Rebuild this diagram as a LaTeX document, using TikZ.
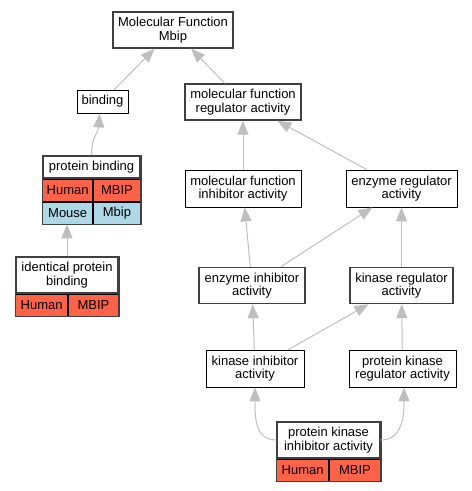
\documentclass[tikz,border=0pt]{standalone}
\usepackage{fontspec}
\setmainfont{Liberation Sans}
\usetikzlibrary{arrows.meta,positioning}
\definecolor{human}{HTML}{FF6347}
\definecolor{mouse}{HTML}{ADD8E6}
\definecolor{isagray}{HTML}{BEBEBE}

\begin{document}
\begin{tikzpicture}[x=1pt,y=-1pt,
    every node/.style={font=\fontsize{13}{13.5}\selectfont,inner sep=0pt,align=center},
    term/.style={draw,line width=0.8pt,fill=white,minimum height=37pt},
    termb/.style={draw=black!75,line width=1.4pt,fill=white,minimum height=36pt},
    cell/.style={draw,line width=0.8pt,minimum height=22pt,anchor=north west},
    isa/.style={color=isagray,line width=1pt,-{Triangle[length=14pt,width=11pt]}}]

    \useasboundingbox (0,0) rectangle (472,491);

    % left branch
    \node[termb,minimum width=120pt] (mf)   at (173,30)    {Molecular Function\\Mbip};
    \node[term,minimum width=51pt,minimum height=23pt] (bind) at (102.5,101.5) {binding};
    \node[termb,minimum width=97pt,minimum height=22pt] (pb) at (91.5,167) {protein binding};
    \node[cell,fill=human,minimum width=50pt] (pbh)  at (pb.south west) {Human};
    \node[cell,fill=human,minimum width=47pt] (pbm)  at (pbh.north east) {MBIP};
    \node[cell,fill=mouse,minimum width=50pt] (pbmh) at (pbh.south west) {Mouse};
    \node[cell,fill=mouse,minimum width=47pt] (pbmb) at (pbmh.north east) {Mbip};
    \draw[draw=black!75,line width=1.4pt] (pb.north west) rectangle (pbmb.south east);

    \node[termb,minimum width=102pt] (ipb) at (67,275) {identical protein\\binding};
    \node[cell,fill=human,minimum width=52pt] (ipbh) at (ipb.south west) {Human};
    \node[cell,fill=human,minimum width=50pt] (ipbm) at (ipbh.north east) {MBIP};
    \draw[draw=black!75,line width=1.4pt] (ipb.north west) rectangle (ipbm.south east);

    % regulator branch
    \node[termb,minimum width=116pt] (mfreg)  at (243,102)   {molecular function\\regulator activity};
    \node[term,minimum width=116pt]  (mfinh)  at (243,188.5) {molecular function\\inhibitor activity};
    \node[term,minimum width=111pt]  (enzreg) at (401.5,188.5) {enzyme regulator\\activity};
    \node[termb,minimum width=106pt] (enzinh) at (252,285.5) {enzyme inhibitor\\activity};
    \node[termb,minimum width=103pt] (kinreg) at (401.5,285.5) {kinase regulator\\activity};
    \node[term,minimum width=98pt]   (kininh) at (255,368.5) {kinase inhibitor\\activity};
    \node[term,minimum width=107pt]  (pkreg)  at (402.5,368.5) {protein kinase\\regulator activity};

    \node[termb,minimum width=103pt] (pkinh) at (328.5,440) {protein kinase\\inhibitor activity};
    \node[cell,fill=human,minimum width=52pt] (pkh) at (pkinh.south west) {Human};
    \node[cell,fill=human,minimum width=51pt] (pkm) at (pkh.north east) {MBIP};
    \draw[draw=black!75,line width=1.4pt] (pkinh.north west) rectangle (pkm.south east);

    % is_a edges
    \path[isa] (bind)   edge (mf)
               (mfreg)  edge (mf)
               (mfinh)  edge (mfreg)
               (enzreg) edge (mfreg)
               (enzinh) edge (mfinh)
               (enzinh) edge (enzreg)
               (kinreg) edge (enzreg)
               (kininh) edge (enzinh)
               (kininh) edge (kinreg)
               (pkreg)  edge (kinreg)
               (ipb.north) edge (ipb.north |- pbmb.south);
    \draw[isa] (pb.north) .. controls +(0,-20) and +(-1,20) .. ([xshift=-3pt]bind.south);
    \draw[isa] (pkinh.west) .. controls +(-22,0) and +(0,28) .. (kininh.south);
    \draw[isa] (pkinh.east) .. controls +(22,0) and +(0,28) .. ([xshift=1.5pt]pkreg.south);
\end{tikzpicture}
\end{document}
